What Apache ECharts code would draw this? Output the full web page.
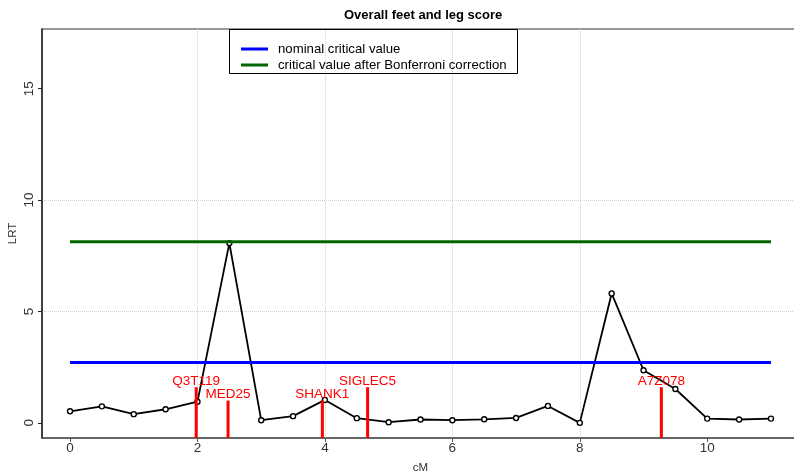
<!DOCTYPE html>
<html>
<head>
<meta charset="utf-8">
<script src="https://cdn.jsdelivr.net/npm/echarts@6/dist/echarts.min.js"></script>
<style>
  html, body { margin: 0; padding: 0; background: #ffffff; }
  #chart { width: 794px; height: 473px; }
</style>
</head>
<body>
<div id="chart"></div>
<script>
// Marker positions along the chromosome (cM) and the likelihood-ratio test statistic at each
const positions = [0, 0.5, 1, 1.5, 2, 2.5, 3, 3.5, 4, 4.5, 5, 5.5, 6, 6.5, 7, 7.5, 8, 8.5, 9, 9.5, 10, 10.5, 11];
const lrt = [0.52, 0.74, 0.39, 0.61, 0.95, 8.07, 0.12, 0.30, 1.03, 0.21, 0.03, 0.15, 0.12, 0.16, 0.22, 0.76, 0.0, 5.81, 2.36, 1.52, 0.19, 0.15, 0.19];

// Significance thresholds
const nominalCritical = 2.71;
const bonferroniCritical = 8.13;

// Candidate genes: position (cM) and height of their marker stick
const geneNames = ['Q3T119', 'MED25', 'SHANK1', 'SIGLEC5', 'A7Z078'];
const genePositions = [1.98, 2.48, 3.96, 4.67, 9.28];
const geneHeights = [1.6, 1.0, 1.0, 1.6, 1.6];

// Axis extents and tick values
const xRange = [-0.44, 11.44];
const yRange = [-0.68, 17.68];
const xTicks = [0, 2, 4, 6, 8, 10];
const yTicks = [0, 5, 10, 15];

const FONT = 'Liberation Sans, Arial, Helvetica, sans-serif';

const chart = echarts.init(document.getElementById('chart'), null, { renderer: 'canvas' });

const xStart = positions[0];
const xEnd = positions[positions.length - 1];

const option = {
  animation: false,
  backgroundColor: '#ffffff',
  title: {
    text: 'Overall feet and leg score',
    left: 339,
    top: 4,
    textStyle: { fontFamily: FONT, fontSize: 13, fontWeight: 'bold', color: '#000' }
  },
  legend: {
    data: ['nominal critical value', 'critical value after Bonferroni correction'],
    orient: 'vertical',
    left: 241,
    top: 42,
    padding: 0,
    itemGap: 2,
    itemWidth: 27,
    itemHeight: 3,
    icon: 'rect',
    selectedMode: false,
    textStyle: { fontFamily: FONT, fontSize: 13.2, color: '#000', lineHeight: 14, padding: [0, 0, 0, 5] }
  },
  graphic: [{
    type: 'rect',
    shape: { x: 229.5, y: 29.5, width: 288, height: 44 },
    style: { fill: 'rgba(0,0,0,0)', stroke: '#000', lineWidth: 1 },
    z: 10
  }],
  grid: {
    left: 42, right: -5, top: 29, bottom: 35,
    outerBoundsMode: 'none',
    containLabel: false,
    show: true, borderColor: '#777', borderWidth: 1.5
  },
  xAxis: {
    type: 'value',
    min: xRange[0], max: xRange[1],
    splitNumber: 5,
    name: 'cM',
    nameLocation: 'middle',
    nameGap: 24,
    nameMoveOverlap: false,
    nameTextStyle: { fontFamily: FONT, fontSize: 11.5, color: '#333' },
    axisLine: { show: true, onZero: false, lineStyle: { color: '#555', width: 1.5 } },
    axisTick: { show: true, length: 4, customValues: xTicks, lineStyle: { color: '#555' } },
    axisLabel: { customValues: xTicks, margin: 3, fontFamily: FONT, fontSize: 13.5, color: '#333' },
    splitLine: { show: true, showMinLine: false, showMaxLine: false, lineStyle: { color: '#d0d0d0', type: 'dotted', width: 1 } }
  },
  yAxis: {
    type: 'value',
    min: yRange[0], max: yRange[1],
    splitNumber: 3,
    name: 'LRT',
    nameLocation: 'middle',
    nameGap: 23,
    nameRotate: 90,
    nameMoveOverlap: false,
    nameTextStyle: { fontFamily: FONT, fontSize: 11.5, color: '#333' },
    axisLine: { show: true, onZero: false, lineStyle: { color: '#222', width: 1.5 } },
    axisTick: { show: true, length: 4, customValues: yTicks, lineStyle: { color: '#222' } },
    axisLabel: { customValues: yTicks, rotate: 90, margin: 6, fontFamily: FONT, fontSize: 13.5, color: '#333' },
    splitLine: { show: true, showMinLine: false, showMaxLine: false, lineStyle: { color: '#d0d0d0', type: 'dotted', width: 1 } }
  },
  series: [
    {
      name: 'LRT',
      type: 'line',
      data: positions.map((x, i) => [x, lrt[i]]),
      symbol: 'circle',
      symbolSize: 5,
      lineStyle: { color: '#000', width: 1.8 },
      itemStyle: { color: '#fff', borderColor: '#000', borderWidth: 1.4 },
      z: 3
    },
    {
      name: 'nominal critical value',
      type: 'line',
      data: [[xStart, nominalCritical], [xEnd, nominalCritical]],
      symbol: 'none',
      color: '#0000ff',
      lineStyle: { color: '#0000ff', width: 3 },
      z: 4
    },
    {
      name: 'critical value after Bonferroni correction',
      type: 'line',
      data: [[xStart, bonferroniCritical], [xEnd, bonferroniCritical]],
      symbol: 'none',
      color: '#006400',
      lineStyle: { color: '#006400', width: 3 },
      z: 4
    },
    {
      name: 'genes',
      type: 'custom',
      data: genePositions.map((x, i) => [x, geneHeights[i], geneNames[i]]),
      renderItem: function (params, api) {
        const x = api.value(0);
        const top = api.coord([x, api.value(1)]);
        const base = api.coord([x, yRange[0]]);
        return {
          type: 'group',
          children: [
            {
              type: 'line',
              shape: { x1: top[0], y1: top[1], x2: base[0], y2: base[1] },
              style: { stroke: '#ff0000', lineWidth: 3 }
            },
            {
              type: 'text',
              x: top[0],
              y: top[1] + 1,
              style: {
                text: geneNames[params.dataIndex],
                fill: '#ff0000',
                font: '13.5px ' + FONT,
                textAlign: 'center',
                textVerticalAlign: 'bottom'
              }
            }
          ]
        };
      },
      z: 5
    }
  ]
};

chart.setOption(option);
</script>
</body>
</html>
